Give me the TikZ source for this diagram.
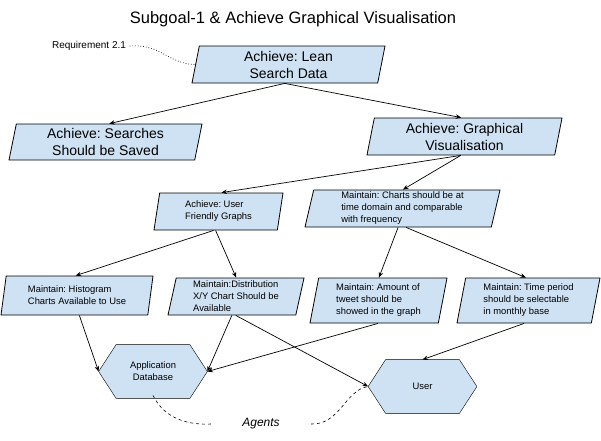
\documentclass[tikz,border=0pt]{standalone}
\usepackage{fontspec}
\setmainfont{Liberation Sans}
\frenchspacing
\usetikzlibrary{arrows.meta,shapes.geometric,backgrounds}
\definecolor{goalblue}{HTML}{CFE2F3}

\begin{document}
\begin{tikzpicture}[x=1pt,y=-1pt,>={Stealth[length=5.5pt,width=4.5pt]},line width=0.8pt]
  \tikzstyle{goal}=[trapezium,trapezium left angle=76,trapezium right angle=104,
                    trapezium stretches body,draw=black,fill=goalblue,inner sep=1pt,
                    font=\fontsize{14}{17}\selectfont,align=center]
  \tikzstyle{subgoal}=[goal,font=\fontsize{9.4}{12}\selectfont,align=left]
  \tikzstyle{agent}=[minimum width=108pt,minimum height=53pt,inner sep=0pt,
                     align=center,font=\fontsize{9.4}{12}\selectfont]
  \tikzstyle{link}=[->,line width=0.7pt]

  \useasboundingbox (0,0) rectangle (601,440);

  \node (title) at (293,19) {\fontsize{16.5}{20}\selectfont Subgoal-1 \& Achieve Graphical Visualisation};
  \node (req) at (89,46) {\fontsize{10}{12}\selectfont Requirement 2.1};

  % goals
  \node [goal,minimum width=193pt,minimum height=37pt] (lean) at (288.5,64.5) {Achieve: Lean\\Search Data};
  \node [goal,minimum width=193pt,minimum height=36pt] (searches) at (105.5,142) {Achieve: Searches\\Should be Saved};
  \node [goal,minimum width=195pt,minimum height=37pt] (graph) at (464.5,136.5) {Achieve: Graphical\\Visualisation};
  \node [subgoal,minimum width=129pt,minimum height=37pt] (friendly) at (218.5,211.5) {Achieve: User\\Friendly Graphs};
  \node [subgoal,minimum width=195pt,minimum height=37pt] (charts) at (402.5,208.5) {Maintain: Charts should be at\\time domain and comparable\\with frequency};
  \node [subgoal,minimum width=152pt,minimum height=39pt] (histo) at (77,295.5) {Maintain: Histogram\\Charts Available to Use};
  \node [subgoal,minimum width=136pt,minimum height=37pt] (distrib) at (236,296.5) {Maintain:Distribution\\X/Y Chart Should be\\Available};
  \node [subgoal,minimum width=137pt,minimum height=45pt] (amount) at (378.5,300.5) {Maintain: Amount of\\tweet should be\\showed in the graph};
  \node [subgoal,minimum width=143pt,minimum height=45pt] (period) at (528.5,300.5) {Maintain: Time period\\should be selectable\\in monthly base};

  % agents
  \node [agent] (db) at (153,371.5) {Application\\Database};
  \node [agent] (user) at (422.5,386.5) {User};
  \begin{scope}[on background layer]
    \foreach \a in {db,user}
      \draw [fill=goalblue] (\a.west) -- ([xshift=17.5pt]\a.north west) -- ([xshift=-17.5pt]\a.north east)
        -- (\a.east) -- ([xshift=-17.5pt]\a.south east) -- ([xshift=17.5pt]\a.south west) -- cycle;
  \end{scope}
  \node [inner xsep=31pt,font=\fontsize{12}{14}\selectfont\itshape] (agents) at (261,424) {Agents};

  \draw [link] (lean.bottom side) -- (searches.top side);
  \draw [link] (lean.bottom side) -- ([xshift=-7pt]graph.top side);
  \draw [link] (graph.bottom side) -- (friendly.top side);
  \draw [link] (graph.bottom side) -- ([xshift=-4pt]charts.top side);
  \draw [link] ([xshift=-2pt]friendly.bottom side) -- ([xshift=-4pt]histo.top side);
  \draw [link] (friendly.bottom side) -- ([xshift=-4pt]distrib.top side);
  \draw [link] (charts.bottom side) -- ([xshift=-4pt]amount.top side);
  \draw [link] ([xshift=8pt]charts.bottom side) -- ([xshift=-7pt]period.top side);
  \draw [link] ([xshift=5pt]histo.bottom side) -- (db.west);
  \draw [link] (distrib.bottom side) -- (db.east);
  \draw [link] ([xshift=4pt]amount.bottom side) -- (db.east);
  \draw [link] ([xshift=4pt]distrib.bottom side) -- (user.west);
  \draw [link] (period.bottom side) -- (user.north);

  \draw [dotted,line width=0.7pt] (req.east) .. controls (162,44) and (168,64) .. (lean.left side);
  \draw [dashed,line width=0.6pt] ([yshift=3pt]db.south) .. controls (165,420) and (190,425) .. (agents.west);
  \draw [dashed,line width=0.6pt] (agents.east) .. controls (340,425) and (345,390) .. (user.west);
\end{tikzpicture}
\end{document}
